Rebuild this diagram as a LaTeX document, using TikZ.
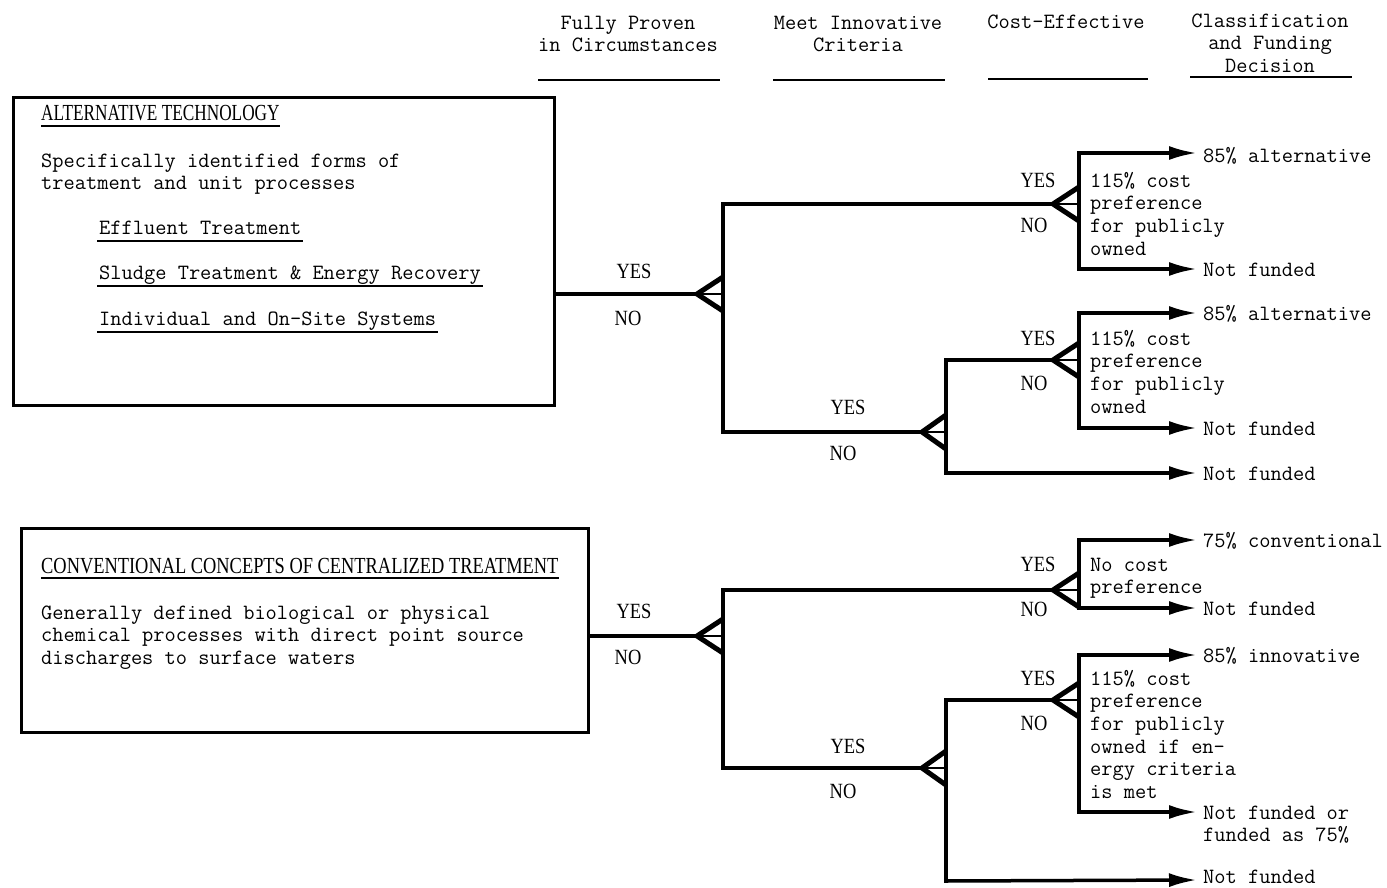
\documentclass[tikz,border=0pt]{standalone}
\usepackage{fontspec}
\setmainfont{Liberation Serif}
\newfontfamily\cond[FakeStretch=0.8]{Liberation Serif}
\newfontfamily\condn[FakeStretch=0.75]{Liberation Serif}
\newfontfamily\condy[FakeStretch=0.85]{Liberation Serif}
\usetikzlibrary{arrows.meta}
\tikzset{
  mono/.style={font=\ttfamily\fontsize{21.8}{22.7}\selectfont\addfontfeature{FakeBold=0.8}, inner sep=0pt},
  yn/.style={font=\condy\fontsize{21.7}{24}\selectfont, inner sep=0pt},
  ttl/.style={font=\cond\fontsize{23}{26}\selectfont, inner sep=0pt},
  ttln/.style={font=\condn\fontsize{23}{26}\selectfont, inner sep=0pt},
  boxframe/.style={draw, line width=3pt, inner sep=0pt},
  ln/.style={line width=3.5pt, line cap=rect},
  fk/.style={line width=5pt, line join=miter},
  arr/.style={line width=3.5pt, -{Latex[length=28pt,width=14pt]}},
  ul/.style={line width=2pt},
}
\newcommand\forkat[6]{%
  \coordinate (#1) at (#2,#3);
  \coordinate (#1-t) at (#4,#5);
  \coordinate (#1-b) at (#4,#6);
  \draw[ln] (#1-t) -- (#1-b);
  \draw[line width=2.5pt] (#1) -- (#4,#3);
  \draw[fk] (#4,{#3-17}) -- (#1) -- (#4,{#3+17});
}
\begin{document}
\begin{tikzpicture}[x=1pt,y=-1pt]
\useasboundingbox (0,0) rectangle (1387,888);

% headers
\node[mono, align=center, anchor=north] (h1) at (628,13) {\strut Fully Proven\\in Circumstances};
\node[mono, align=center, anchor=north] (h2) at (858,13) {\strut Meet Innovative\\Criteria};
\node[mono, anchor=base] (h3) at (1066,29) {Cost-Effective};
\node[mono, align=center, anchor=north] (h4) at (1270,11) {\strut Classification\\and Funding\\Decision};
\draw[ul] (538,80) -- (720,80);
\draw[ul] (773,80) -- (945,80);
\draw[ul] (988,79) -- (1148,79);
\draw[ul] (1190,77) -- (1352,77);

% box 1
\node[boxframe, anchor=north west, minimum width=541pt, minimum height=308pt] (box1) at (12,96) {};
\node[ttln, anchor=base west] (t1) at (41,121) {ALTERNATIVE TECHNOLOGY};
\draw[ul] ([yshift=-5pt]t1.base west) -- ([yshift=-5pt]t1.base east);
\node[mono, align=left, anchor=north west] (d1) at (41,151) {\strut Specifically identified forms of\\treatment and unit processes};
\node[mono, anchor=base west] (i1) at (99,234) {Effluent Treatment};
\node[mono, anchor=base west] (i2) at (99,279) {Sludge Treatment \& Energy Recovery};
\node[mono, anchor=base west] (i3) at (99,325) {Individual and On-Site Systems};
\foreach \n in {i1,i2,i3}{
  \draw[ul] ([xshift=-2pt,yshift=-6.5pt]\n.base west) -- ([xshift=2pt,yshift=-6.5pt]\n.base east);
}

% box 2
\node[boxframe, anchor=north west, minimum width=567pt, minimum height=204pt] (box2) at (20,527) {};
\node[ttl, anchor=base west] (t2) at (41,573) {CONVENTIONAL CONCEPTS OF CENTRALIZED TREATMENT};
\draw[ul] ([yshift=-5pt]t2.base west) -- ([yshift=-5pt]t2.base east);
\node[mono, align=left, anchor=north west] (d2) at (41,603) {\strut Generally defined biological or physical\\chemical processes with direct point source\\discharges to surface waters};

% forks
\forkat{A}{697}{294}{723}{204}{432}
\forkat{B1}{1053}{204}{1079}{153}{269}
\forkat{B2}{922}{432}{946}{360}{473}
\forkat{B3}{1053}{360}{1079}{313}{428}
\forkat{C}{697}{636}{723}{590}{768}
\forkat{D1}{1053}{590}{1079}{540}{608}
\forkat{D2}{922}{768}{946}{700}{881}
\forkat{D3}{1053}{700}{1079}{655}{812}

% connectors between forks
\draw[ln] (A -| box1.east) -- (A);
\draw[ln] (A-t) -- (B1);
\draw[ln] (A-b) -- (B2);
\draw[ln] (B2-t) -- (B3);
\draw[ln] (C -| box2.east) -- (C);
\draw[ln] (C-t) -- (D1);
\draw[ln] (C-b) -- (D2);
\draw[ln] (D2-t) -- (D3);

% arrow ends
\coordinate (e1) at (1197,153);
\coordinate (e2) at (1197,269);
\coordinate (e3) at (1197,313);
\coordinate (e4) at (1197,428);
\coordinate (e5) at (1197,473);
\coordinate (e6) at (1197,540);
\coordinate (e7) at (1197,608);
\coordinate (e8) at (1197,655);
\coordinate (e9) at (1197,812);
\coordinate (e10) at (1197,880);
\draw[arr] (B1-t) -- (e1);
\draw[arr] (B1-b) -- (e2);
\draw[arr] (B3-t) -- (e3);
\draw[arr] (B3-b) -- (e4);
\draw[arr] (B2-b) -- (e5);
\draw[arr] (D1-t) -- (e6);
\draw[arr] (D1-b) -- (e7);
\draw[arr] (D3-t) -- (e8);
\draw[arr] (D3-b) -- (e9);
\draw[arr] (D2-b) -- (e10);

% results
\node[mono, anchor=base west] (r1) at (1203,162) {85\% alternative};
\node[mono, anchor=base west] (r2) at (1203,276) {Not funded};
\node[mono, anchor=base west] (r3) at (1203,320) {85\% alternative};
\node[mono, anchor=base west] (r4) at (1203,435) {Not funded};
\node[mono, anchor=base west] (r5) at (1203,480) {Not funded};
\node[mono, anchor=base west] (r6) at (1203,547) {75\% conventional};
\node[mono, anchor=base west] (r7) at (1203,615) {Not funded};
\node[mono, anchor=base west] (r8) at (1203,662) {85\% innovative};
\node[mono, align=left, anchor=north west] (r9) at (1203,803) {\strut Not funded or\\funded as 75\%};
\node[mono, anchor=base west] (r10) at (1203,883) {Not funded};

% cost notes
\node[mono, align=left, anchor=north west] (c1) at (1090,171) {\strut 115\% cost\\preference\\for publicly\\owned};
\node[mono, align=left, anchor=north west] (c2) at (1090,329) {\strut 115\% cost\\preference\\for publicly\\owned};
\node[mono, align=left, anchor=north west] (c3) at (1090,555) {\strut No cost\\preference};
\node[mono, align=left, anchor=north west] (c4) at (1090,669) {\strut 115\% cost\\preference\\for publicly\\owned if en-\\ergy criteria\\is met};

% YES / NO labels
\node[yn] (yA) at (634,271) {YES};
\node[yn] (nA) at (628,318) {NO};
\node[yn] (yB1) at (1038,180) {YES};
\node[yn] (nB1) at (1034,225) {NO};
\node[yn] (yB2) at (848,407) {YES};
\node[yn] (nB2) at (843,453) {NO};
\node[yn] (yB3) at (1038,338) {YES};
\node[yn] (nB3) at (1034,383) {NO};
\node[yn] (yC) at (634,611) {YES};
\node[yn] (nC) at (628,657) {NO};
\node[yn] (yD1) at (1038,564) {YES};
\node[yn] (nD1) at (1034,609) {NO};
\node[yn] (yD2) at (848,746) {YES};
\node[yn] (nD2) at (843,791) {NO};
\node[yn] (yD3) at (1038,678) {YES};
\node[yn] (nD3) at (1034,723) {NO};
\end{tikzpicture}
\end{document}
